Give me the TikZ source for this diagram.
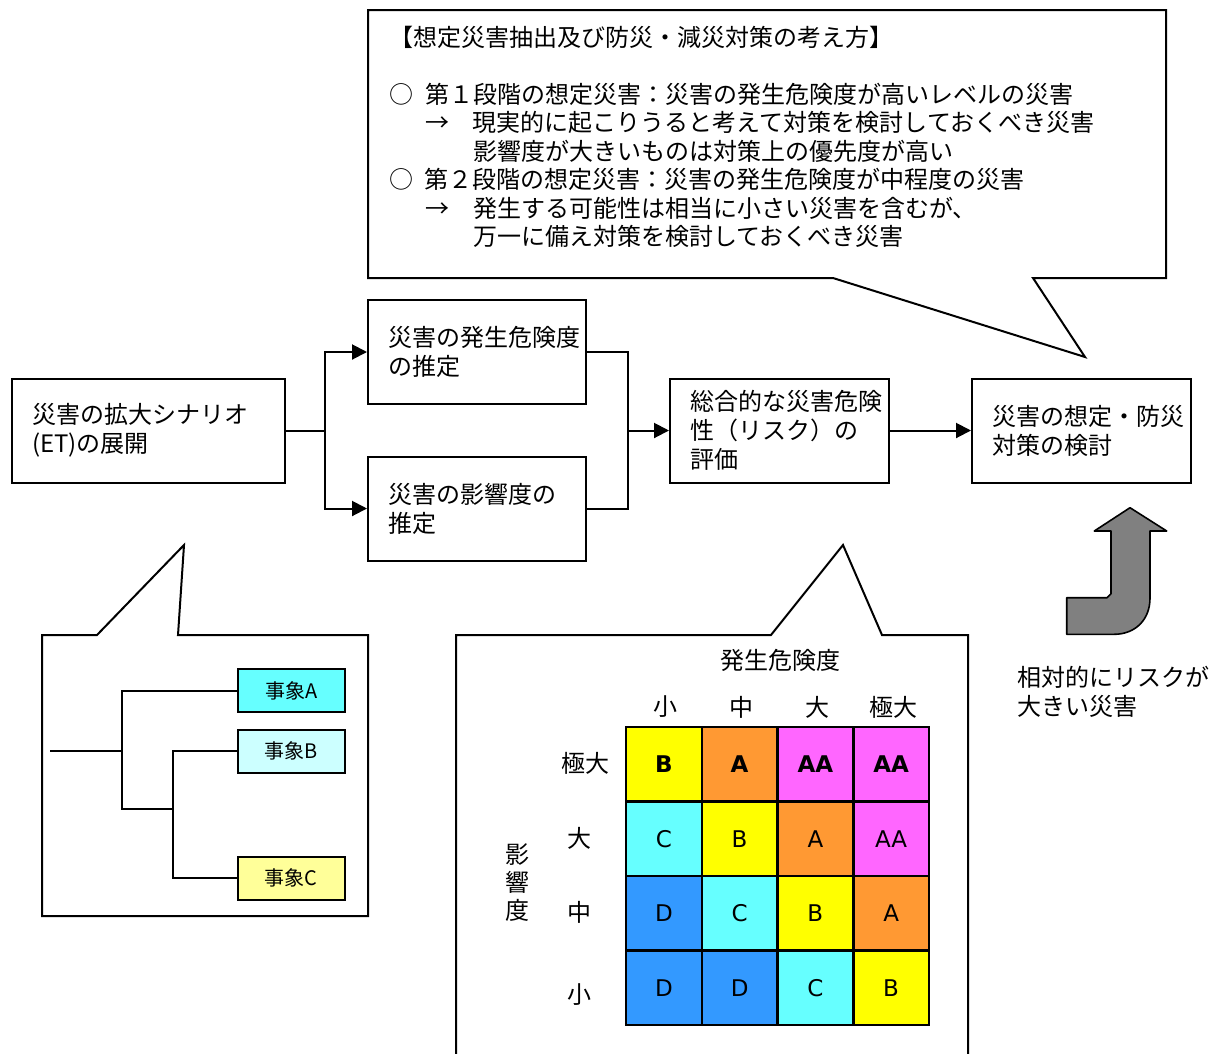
\documentclass[tikz,border=0pt]{standalone}
\usepackage{fontspec}
\setmainfont{Noto Sans CJK JP}
\newfontfamily\cellfont{DejaVu Sans}
\usetikzlibrary{arrows.meta}
\definecolor{riskAA}{HTML}{FF66FF}
\definecolor{riskA}{HTML}{FF9933}
\definecolor{riskB}{HTML}{FFFF00}
\definecolor{riskC}{HTML}{66FFFF}
\definecolor{riskD}{HTML}{3399FF}
\definecolor{evA}{HTML}{66FFFF}
\definecolor{evB}{HTML}{CCFFFF}
\definecolor{evC}{HTML}{FFFF99}
\definecolor{upgray}{HTML}{808080}

\begin{document}
\begin{tikzpicture}[x=1pt,y=-1pt,line width=2pt,>={Triangle[length=15pt,width=15pt]},
  font=\fontsize{24}{29}\selectfont,
  box/.style={draw,minimum height=104pt,text width=#1,inner xsep=20pt,align=left},
  ev/.style={draw,minimum width=107pt,minimum height=43pt,font=\fontsize{20}{20}\selectfont},
  cell/.style={draw,line width=2.5pt,minimum width=75.75pt,minimum height=74.5pt,inner sep=0pt,
    font=\cellfont\fontsize{23}{23}\selectfont}]
\useasboundingbox (0,0) rectangle (1210,1053);

% callouts
\draw (368,10) -- (1166,10) -- (1166,278) -- (1033,278) -- (1085,357) -- (833,278) -- (368,278) -- cycle;
\draw (42,635) -- (97,635) -- (184,545) -- (178,635) -- (368,635) -- (368,916) -- (42,916) -- cycle;
\draw (456,1070) -- (456,635) -- (771,635) -- (843,545) -- (882,635) -- (968,635) -- (968,1070);

\node[anchor=north west,align=left,inner sep=0pt,font=\fontsize{24}{28.5}\selectfont] (idea) at (388,25)
  {【想定災害抽出及び防災・減災対策の考え方】\\[28.5pt]
   ○\hspace*{0.5em}第１段階の想定災害：災害の発生危険度が高いレベルの災害\\
   \hspace*{1.5em}→\hspace*{1em}現実的に起こりうると考えて対策を検討しておくべき災害\\
   \hspace*{3.5em}影響度が大きいものは対策上の優先度が高い\\
   ○\hspace*{0.5em}第２段階の想定災害：災害の発生危険度が中程度の災害\\
   \hspace*{1.5em}→\hspace*{1em}発生する可能性は相当に小さい災害を含むが、\\
   \hspace*{3.5em}万一に備え対策を検討しておくべき災害};

% flow
\node[box=233pt] (scen) at (148.5,430.5) {災害の拡大シナリオ\\(ET)の展開};
\node[box=178pt] (freq) at (477,352) {災害の発生危険度\\の推定};
\node[box=178pt] (impact) at (477,508.5) {災害の影響度の\\推定};
\node[box=179pt] (risk) at (779.5,430.5) {総合的な災害危険\\性（リスク）の\\評価};
\node[box=179pt] (plan) at (1081.5,430.5) {災害の想定・防災\\対策の検討};
\coordinate (fork) at (325,430.5);
\coordinate (join) at (628,430.5);
\draw (scen) -- (fork);
\draw[->] (fork) |- (freq);
\draw[->] (fork) |- (impact);
\draw (freq) -| (join);
\draw (impact) -| (join);
\draw[->] (join) -- (risk);
\draw[->] (risk) -- (plan);

% event tree
\node[ev,fill=evA] (evA) at (291.3,690.7) {事象A};
\node[ev,fill=evB] (evB) at (291.3,751) {事象B};
\node[ev,fill=evC] (evC) at (291.3,878) {事象C};
\coordinate (et0) at (50,751);
\coordinate (et1) at (122,751);
\coordinate (et2) at (173,809);
\draw (et0) -- (et1);
\draw (evA.west) -| (et1);
\draw (et1) |- (et2);
\draw (evB.west) -| (et2);
\draw (evC.west) -| (et2);

% risk matrix
\node (freqT) at (780,660) {発生危険度};
\foreach \h [count=\c] in {小,中,大,極大}
  \node (h\c) at ({628+75.75*(\c-0.5)},707) {\h};
\node (r1) at (585,763) {極大};
\node (r2) at (579,838) {大};
\node (r3) at (579,912) {中};
\node (r4) at (579,995) {小};
\node[align=center,font=\fontsize{24}{28}\selectfont] (impT) at (517,883) {影\\響\\度};
\foreach \cells [count=\r] in {{B,A,AA,AA},{C,B,A,AA},{D,C,B,A},{D,D,C,B}}
  \foreach \v [count=\c] in \cells
    \node[cell,fill=risk\v] (m\r\c) at ({626+75.75*(\c-0.5)},{727+74.5*(\r-0.5)})
      {\ifnum\r=1 \bfseries\fi\v};

% up arrow
\draw[fill=upgray,line width=1.6pt,line join=round] (1066.7,597.7) -- (1107,597.7) -- (1111,593.7)
  -- (1111,531) -- (1094.3,531) -- (1130,507.7) -- (1166.7,531) -- (1150,531) -- (1150,598)
  .. controls (1150,620) and (1135,634.3) .. (1114,634.3) -- (1066.7,634.3) -- cycle;
\node[anchor=west,align=left,inner sep=0pt] (note) at (1016,692) {相対的にリスクが\\大きい災害};
\end{tikzpicture}
\end{document}
